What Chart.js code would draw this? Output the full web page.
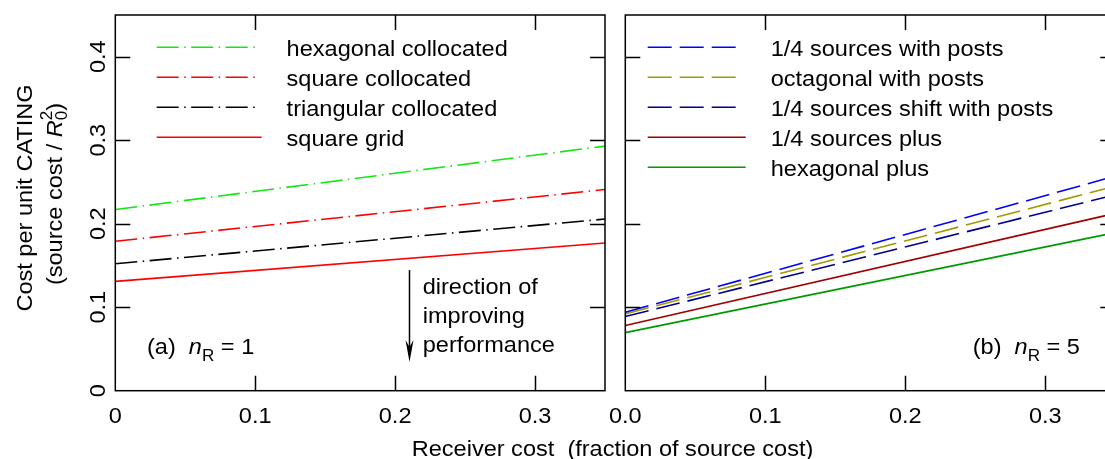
<!DOCTYPE html>
<html>
<head>
<meta charset="utf-8">
<script src="https://cdn.jsdelivr.net/npm/chart.js@4"></script>
<style>
  html, body { margin: 0; padding: 0; background: #fff; overflow: hidden; }
  #wrap { position: relative; width: 1105px; height: 459px; overflow: hidden; }
  canvas { position: absolute; top: 0; }
  #left { left: 0; }
  #right { left: 610px; }
</style>
</head>
<body>
<div id="wrap">
  <canvas id="left" width="1105" height="459"></canvas>
  <canvas id="right" width="530" height="459"></canvas>
</div>
<script>
const xPoints = [0, 0.35];

// panel (a), nR = 1
const hexCollocated = [0.217, 0.293];
const squareCollocated = [0.179, 0.241];
const triCollocated = [0.152, 0.2056];
const squareGrid = [0.131, 0.177];
const leftLabels = ['hexagonal collocated', 'square collocated', 'triangular collocated', 'square grid'];

// panel (b), nR = 5
const quarterPosts = [0.094, 0.257];
const octagonalPosts = [0.092, 0.245];
const quarterShiftPosts = [0.0888, 0.2347];
const quarterPlus = [0.078, 0.2124];
const hexPlus = [0.0696, 0.1893];
const rightLabels = ['1/4 sources with posts', 'octagonal with posts', '1/4 sources shift with posts', '1/4 sources plus', 'hexagonal plus'];

// ticks
const xTickValues = [0, 0.1, 0.2, 0.3];
const xTickLabelsLeft = ['0', '0.1', '0.2', '0.3'];
const xTickLabelsRight = ['0.0', '0.1', '0.2', '0.3'];
const yTickValues = [0, 0.1, 0.2, 0.3, 0.4];
const yTickLabels = ['0', '0.1', '0.2', '0.3', '0.4'];

const F = '22px "Liberation Sans", Arial, sans-serif';
const FI = 'italic 22px "Liberation Sans", Arial, sans-serif';
const FS = '16px "Liberation Sans", Arial, sans-serif';
const SX = 1.07;   // text in the figure is a bit wider than plain Arial
const TICK = 15;

function pts(ys) {
    return xPoints.map((x, i) => ({ x: x, y: ys[i] }));
}

function line(label, ys, color, dash) {
    return {
        label: label,
        data: pts(ys),
        borderColor: color,
        borderWidth: 1.6,
        borderDash: dash,
        pointRadius: 0,
        fill: false,
        tension: 0
    };
}

function runsWidth(ctx, runs) {
    let w = 0;
    runs.forEach(r => {
        ctx.font = r.font;
        if (!r.noAdvance) w += ctx.measureText(r.t).width;
    });
    return w;
}

// draw a list of text runs (for italic / sub / superscripts)
function drawRuns(ctx, runs, x, y, align, rot) {
    ctx.save();
    ctx.translate(x, y);
    if (rot) ctx.rotate(rot);
    ctx.scale(SX, 1);
    ctx.fillStyle = '#000';
    ctx.textBaseline = 'alphabetic';
    ctx.textAlign = 'left';
    const w = runsWidth(ctx, runs);
    let cx = align === 'center' ? -w / 2 : (align === 'right' ? -w : 0);
    runs.forEach(r => {
        ctx.font = r.font;
        ctx.fillText(r.t, cx, r.dy || 0);
        if (!r.noAdvance) cx += ctx.measureText(r.t).width;
    });
    ctx.restore();
}

function text(ctx, str, x, y, align, rot) {
    drawRuns(ctx, [{ t: str, font: F }], x, y, align, rot);
}

function framePlugin(opts) {
    return {
        id: 'frame',
        afterDraw(chart) {
            const ctx = chart.ctx;
            const a = chart.chartArea;
            const xs = chart.scales.x, ys = chart.scales.y;
            ctx.save();
            ctx.strokeStyle = '#000';
            ctx.lineWidth = 1.5;
            ctx.strokeRect(a.left, a.top, a.right - a.left, a.bottom - a.top);
            ctx.beginPath();
            xTickValues.forEach(v => {
                const px = Math.round(xs.getPixelForValue(v)) + 0.5;
                if (v === 0) return;
                ctx.moveTo(px, a.bottom); ctx.lineTo(px, a.bottom - TICK);
                ctx.moveTo(px, a.top); ctx.lineTo(px, a.top + TICK);
            });
            yTickValues.forEach(v => {
                const py = Math.round(ys.getPixelForValue(v)) + 0.5;
                if (v === 0) return;
                ctx.moveTo(a.left, py); ctx.lineTo(a.left + TICK, py);
                ctx.moveTo(a.right, py); ctx.lineTo(a.right - TICK, py);
            });
            ctx.stroke();
            ctx.restore();

            // x tick labels
            opts.xLabels.forEach((lab, i) => {
                text(ctx, lab, xs.getPixelForValue(xTickValues[i]), 423, 'center');
            });

            // legend
            const L = opts.legend;
            chart.data.datasets.forEach((ds, i) => {
                const y = L.top + i * 30;
                const end = ds.borderDash.length ? L.dashEnd : L.solidEnd;
                ctx.save();
                ctx.strokeStyle = ds.borderColor;
                ctx.lineWidth = ds.borderWidth;
                ctx.setLineDash(ds.borderDash);
                ctx.beginPath();
                ctx.moveTo(L.x0, y);
                ctx.lineTo(end, y);
                ctx.stroke();
                ctx.restore();
                text(ctx, ds.label, L.textX, y + 8.5, 'left');
            });

            if (opts.extra) opts.extra(chart, ctx);
        }
    };
}

function makeChart(id, datasets, padding, opts) {
    return new Chart(document.getElementById(id), {
        type: 'line',
        data: { datasets: datasets },
        options: {
            responsive: false,
            animation: false,
            layout: { padding: padding },
            plugins: { legend: { display: false }, tooltip: { enabled: false } },
            scales: {
                x: { type: 'linear', min: 0, max: 0.35, display: false },
                y: { type: 'linear', min: 0, max: 0.45, display: false }
            }
        },
        plugins: [framePlugin(opts)]
    });
}

const dashDot = [22, 5.5, 1.5, 5.5];
const dashed = [24, 8];

makeChart('left', [
    line(leftLabels[0], hexCollocated, '#14e614', dashDot),
    line(leftLabels[1], squareCollocated, '#ff0000', dashDot),
    line(leftLabels[2], triCollocated, '#000000', dashDot),
    line(leftLabels[3], squareGrid, '#ff0000', [])
], { left: 115.3, right: 1105 - 605, top: 15, bottom: 459 - 390.7 }, {
    xLabels: xTickLabelsLeft,
    legend: { x0: 156.7, dashEnd: 255, solidEnd: 261.7, textX: 286.6, top: 47.3 },
    extra(chart, ctx) {
        const ys = chart.scales.y;
        // y tick labels, rotated
        yTickLabels.forEach((lab, i) => {
            text(ctx, lab, 105, ys.getPixelForValue(yTickValues[i]), 'center', -Math.PI / 2);
        });
        // y axis title
        text(ctx, 'Cost per unit CATING', 32, 198, 'center', -Math.PI / 2);
        drawRuns(ctx, [
            { t: '(source cost / ', font: F },
            { t: 'R', font: FI },
            { t: '0', font: FS, dy: 5, noAdvance: true },
            { t: '2', font: FS, dy: -10 },
            { t: ')', font: F }
        ], 62, 194, 'center', -Math.PI / 2);
        // x axis title
        text(ctx, 'Receiver cost  (fraction of source cost)', 411.7, 456, 'left');
        // panel label
        drawRuns(ctx, [
            { t: '(a)  ', font: F },
            { t: 'n', font: FI },
            { t: 'R', font: FS, dy: 7 },
            { t: ' = 1', font: F }
        ], 147, 354, 'left');
        // arrow + note
        ctx.save();
        ctx.strokeStyle = '#000';
        ctx.fillStyle = '#000';
        ctx.lineWidth = 1.5;
        ctx.beginPath();
        ctx.moveTo(409.5, 270);
        ctx.lineTo(409.5, 352);
        ctx.stroke();
        ctx.beginPath();
        ctx.moveTo(409.5, 362);
        ctx.lineTo(405.5, 340);
        ctx.lineTo(409.5, 347);
        ctx.lineTo(413.5, 340);
        ctx.closePath();
        ctx.fill();
        ctx.restore();
        text(ctx, 'direction of', 422.7, 294, 'left');
        text(ctx, 'improving', 422.7, 323, 'left');
        text(ctx, 'performance', 422.7, 352, 'left');
    }
});

makeChart('right', [
    line(rightLabels[0], quarterPosts, '#0000ff', dashed),
    line(rightLabels[1], octagonalPosts, '#a09a00', dashed),
    line(rightLabels[2], quarterShiftPosts, '#000090', dashed),
    line(rightLabels[3], quarterPlus, '#a00000', []),
    line(rightLabels[4], hexPlus, '#009a00', [])
], { left: 15.3, right: 530 - 505.3, top: 15, bottom: 459 - 390.7 }, {
    xLabels: xTickLabelsRight,
    legend: { x0: 37.7, dashEnd: 126.7, solidEnd: 135.7, textX: 160.7, top: 47.3 },
    extra(chart, ctx) {
        drawRuns(ctx, [
            { t: '(b)  ', font: F },
            { t: 'n', font: FI },
            { t: 'R', font: FS, dy: 7 },
            { t: ' = 5', font: F }
        ], 362.7, 354, 'left');
    }
});
</script>
</body>
</html>
